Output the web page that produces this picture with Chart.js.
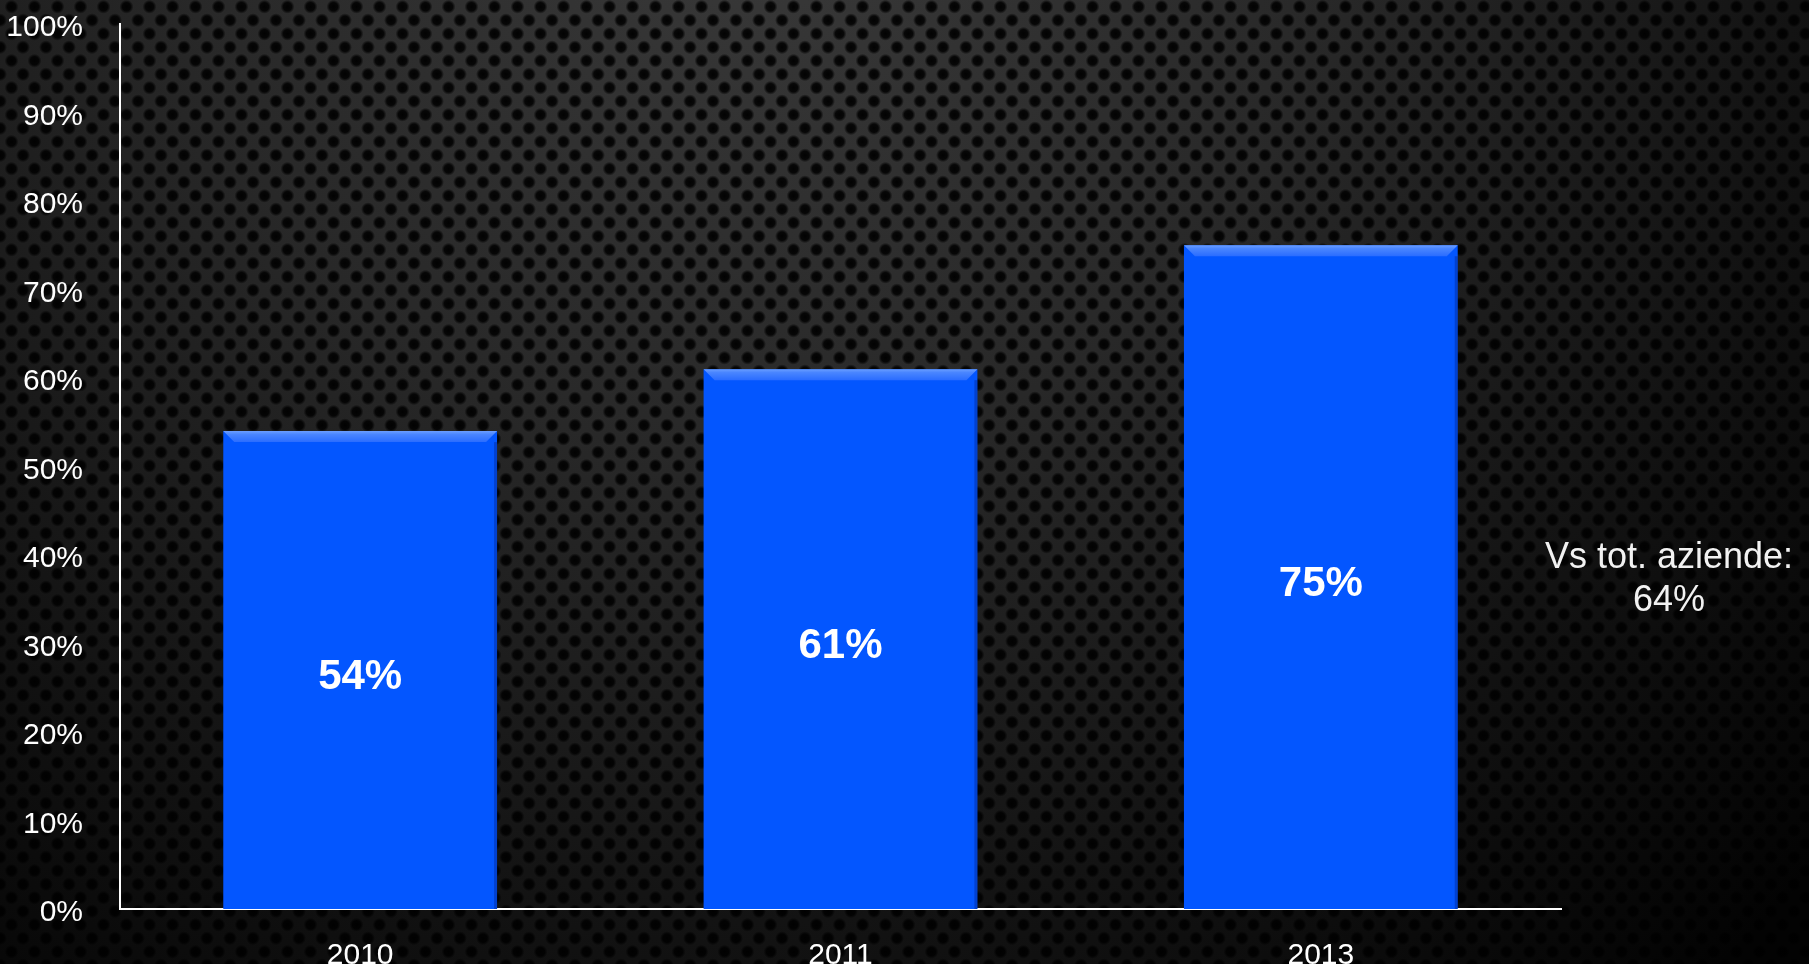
<!DOCTYPE html>
<html>
<head>
<meta charset="utf-8">
<script src="https://cdn.jsdelivr.net/npm/chart.js@4.4.0/dist/chart.umd.min.js"></script>
<style>
    html, body { margin: 0; padding: 0; background: #000; overflow: hidden; }
    canvas { display: block; }
</style>
</head>
<body>
<canvas id="grafico" width="1809" height="964"></canvas>
<script>
// dati del grafico
const anni = ['2010', '2011', '2013'];
const percentuali = [54, 61, 75];
const notaTesto = ['Vs tot. aziende:', '64%'];

const FONT = '"Helvetica Neue", Helvetica, "Liberation Sans", Arial, sans-serif';

// sfondo scuro con gradiente e lamiera forata
const sfondo = {
    id: 'sfondo',
    beforeDraw(chart) {
        const { ctx, width, height } = chart;
        ctx.save();
        ctx.fillStyle = '#000';
        ctx.fillRect(0, 0, width, height);
        const g = ctx.createRadialGradient(width * 0.42, -120, 0, width * 0.42, -120, width * 0.8);
        g.addColorStop(0, '#3a3a3a');
        g.addColorStop(0.4, '#282828');
        g.addColorStop(0.75, '#111');
        g.addColorStop(1, '#030303');
        ctx.fillStyle = g;
        ctx.fillRect(0, 0, width, height);

        // tassello con i fori
        const tile = document.createElement('canvas');
        tile.width = 23;
        tile.height = 27;
        const t = tile.getContext('2d');
        const fori = [[11.5, 6.75], [11.5, 33.75], [0, 20.25], [23, 20.25], [0, -6.75], [23, -6.75]];
        fori.forEach(([fx, fy]) => {
            const rg = t.createRadialGradient(fx, fy, 0, fx, fy, 7);
            rg.addColorStop(0, 'rgba(0,0,0,0.95)');
            rg.addColorStop(0.6, 'rgba(0,0,0,0.85)');
            rg.addColorStop(1, 'rgba(0,0,0,0)');
            t.fillStyle = rg;
            t.beginPath();
            t.arc(fx, fy, 7, 0, Math.PI * 2);
            t.fill();
        });
        ctx.fillStyle = ctx.createPattern(tile, 'repeat');
        ctx.fillRect(0, 0, width, height);
        ctx.restore();
    }
};

// smussatura delle barre ed etichette dei valori
const barreSmussate = {
    id: 'barreSmussate',
    afterDatasetsDraw(chart) {
        const { ctx } = chart;
        const meta = chart.getDatasetMeta(0);
        ctx.save();
        meta.data.forEach((bar, i) => {
            const { x, y, base, width } = bar.getProps(['x', 'y', 'base', 'width'], true);
            const l = x - width / 2;
            const r = x + width / 2;
            const b = 11;

            const lg = ctx.createLinearGradient(0, y, 0, y + b);
            lg.addColorStop(0, '#6b9eff');
            lg.addColorStop(0.3, '#4a86ff');
            lg.addColorStop(1, '#2a6cff');
            ctx.fillStyle = lg;
            ctx.beginPath();
            ctx.moveTo(l, y);
            ctx.lineTo(r, y);
            ctx.lineTo(r - b, y + b);
            ctx.lineTo(l + b, y + b);
            ctx.closePath();
            ctx.fill();

            ctx.fillStyle = 'rgba(0, 25, 120, 0.35)';
            ctx.fillRect(r - 3, y + b, 3, base - y - b);

            ctx.fillStyle = '#fff';
            ctx.font = 'bold 42px ' + FONT;
            ctx.textAlign = 'center';
            ctx.textBaseline = 'middle';
            ctx.fillText(percentuali[i] + '%', x, (y + base) / 2 + 7);
        });
        ctx.restore();
    }
};

// nota a destra del grafico
const nota = {
    id: 'nota',
    afterDraw(chart) {
        const { ctx, chartArea } = chart;
        const cx = chartArea.right + 108;
        const y0 = chartArea.top + (chartArea.bottom - chartArea.top) * 0.604;
        ctx.save();
        ctx.fillStyle = '#f2f2f2';
        ctx.font = '36px ' + FONT;
        ctx.textAlign = 'center';
        ctx.textBaseline = 'middle';
        notaTesto.forEach((riga, i) => ctx.fillText(riga, cx, y0 + i * 43));
        ctx.restore();
    }
};

Chart.defaults.font.family = FONT;
Chart.defaults.font.size = 30;
Chart.defaults.color = '#fff';

const ctx = document.getElementById('grafico').getContext('2d');
new Chart(ctx, {
    type: 'bar',
    data: {
        labels: anni,
        datasets: [{
            label: 'Percentuale',
            data: percentuali,
            backgroundColor: '#0356ff',
            borderWidth: 0,
            barPercentage: 0.57,
            categoryPercentage: 1
        }]
    },
    options: {
        responsive: false,
        animation: false,
        devicePixelRatio: 1,
        layout: { padding: { top: 24, right: 248, left: 0, bottom: 0 } },
        plugins: {
            legend: { display: false },
            tooltip: { enabled: false }
        },
        scales: {
            x: {
                grid: { display: false },
                border: { display: true, color: '#fff', width: 2 },
                ticks: { padding: 21, color: '#fff' },
                afterFit: scale => { scale.height = 55; }
            },
            y: {
                min: 0,
                max: 100,
                grid: { display: false },
                border: { display: true, color: '#fff', width: 2 },
                ticks: {
                    stepSize: 10,
                    padding: 29,
                    labelOffset: 4,
                    color: '#fff',
                    callback: v => v + '%'
                },
                afterFit: scale => {
                    scale.width = 120;
                    scale.paddingTop = 0;
                    scale.paddingBottom = 0;
                }
            }
        }
    },
    plugins: [sfondo, barreSmussate, nota]
});
</script>
</body>
</html>
